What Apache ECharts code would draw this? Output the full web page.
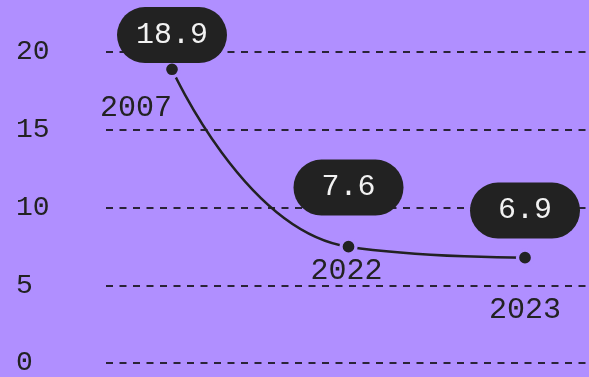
<!DOCTYPE html>
<html>
<head>
<meta charset="utf-8">
<script src="https://cdn.jsdelivr.net/npm/echarts@6/dist/echarts.min.js"></script>
<style>
  html, body { margin: 0; padding: 0; background: #B08FFF; }
  #chart { width: 589px; height: 377px; }
</style>
</head>
<body>
<div id="chart"></div>
<script>
// Data
const years = ['2007', '2022', '2023'];
const values = [18.9, 7.6, 6.9];
const yTicks = [0, 5, 10, 15, 20];

// Per-point label placement (pixel offsets relative to each dot)
const pillDistance = [-3, 22, 10];
const yearOffset = [[-36, 39], [-2, 24], [0, 52]];

const FONT = '"Liberation Mono", monospace';
const INK = '#222222';
const BG = '#B08FFF';

const chart = echarts.init(document.getElementById('chart'), null, { renderer: 'canvas' });

const yAxisBase = {
  type: 'value',
  min: yTicks[0],
  max: yTicks[yTicks.length - 1],
  interval: yTicks[1] - yTicks[0]
};

chart.setOption({
  backgroundColor: BG,
  animation: false,
  grid: [
    { left: 106, right: 0, top: 52, bottom: 11 },
    { left: 172, right: 64, top: 52, bottom: 11 }
  ],
  xAxis: [
    { gridIndex: 0, type: 'category', data: years, show: false },
    { gridIndex: 1, type: 'category', data: years, boundaryGap: false, show: false }
  ],
  yAxis: [
    Object.assign({}, yAxisBase, {
      gridIndex: 0,
      axisLine: { show: false },
      axisTick: { show: false },
      axisLabel: {
        align: 'left',
        margin: 90,
        color: INK,
        fontFamily: FONT,
        fontSize: 28
      },
      splitLine: {
        lineStyle: { color: '#2a2438', width: 2, type: [7, 6.5] }
      }
    }),
    Object.assign({}, yAxisBase, { gridIndex: 1, show: false, splitLine: { show: false } })
  ],
  series: [
    {
      type: 'line',
      xAxisIndex: 1,
      yAxisIndex: 1,
      data: values.map((v, i) => ({
        value: v,
        label: { distance: pillDistance[i] }
      })),
      smooth: 0.5,
      symbol: 'circle',
      symbolSize: 15,
      lineStyle: { color: INK, width: 2.5 },
      itemStyle: { color: INK, borderColor: BG, borderWidth: 3.3 },
      label: {
        show: true,
        position: 'top',
        formatter: p => p.value.toFixed(1),
        width: 110,
        lineHeight: 30,
        padding: [13, 0],
        align: 'center',
        backgroundColor: INK,
        borderRadius: 28,
        color: '#F2F2F2',
        fontFamily: FONT,
        fontSize: 30
      },
      z: 3
    },
    {
      type: 'scatter',
      xAxisIndex: 1,
      yAxisIndex: 1,
      symbolSize: 0,
      silent: true,
      itemStyle: { opacity: 1 },
      data: values.map((v, i) => ({
        value: v,
        label: { offset: yearOffset[i] }
      })),
      label: {
        show: true,
        position: 'inside',
        formatter: p => p.name,
        color: INK,
        opacity: 1,
        fontFamily: FONT,
        fontSize: 30
      },
      z: 2
    }
  ]
});
</script>
</body>
</html>
